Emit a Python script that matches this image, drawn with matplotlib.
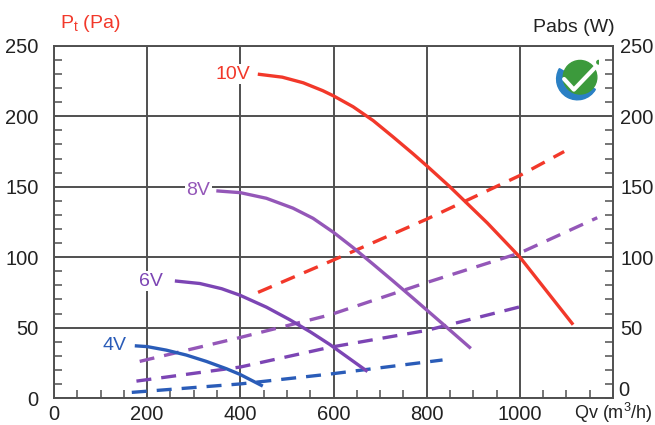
import numpy as np
import matplotlib.pyplot as plt
from matplotlib.patches import Circle, Wedge
from matplotlib.ticker import MultipleLocator, FixedLocator

plt.rcParams['font.family'] = ['Liberation Sans', 'DejaVu Sans']

# pressure curves Pt (Pa) vs Qv (m3/h)
qv_10v = [441, 490, 535, 577, 600, 642, 685, 727, 770, 800, 850, 930, 1000, 1112]
pt_10v = [229.8, 227.8, 223.8, 218.2, 214.5, 206.8, 197.0, 185.6, 173.6, 164.9, 149.9, 124.3, 100, 53]
qv_8v = [352, 400, 456, 513, 556, 600, 642, 685, 727, 770, 838, 892]
pt_8v = [147, 145.8, 141.8, 134.8, 127.6, 117.6, 106.8, 95.0, 83.3, 71.1, 51.6, 36]
qv_6v = [263, 313, 360, 399, 456, 506, 550, 592, 670]
pt_6v = [83, 81.3, 77.6, 73, 64.5, 55.6, 47, 38, 19.5]
qv_4v = [177, 200, 241, 284, 327, 370, 399, 445]
pt_4v = [37, 36.5, 34, 30.5, 26, 20.8, 16.8, 9]

# absorbed power Pabs (W) vs Qv
qv_w10 = [438, 600, 800, 1000, 1095]
w_10 = [75, 98, 127, 158, 175]
qv_w8 = [184, 400, 592, 800, 1000, 1166]
w_8 = [26, 43, 59, 82, 103, 128]
qv_w6 = [177, 400, 592, 800, 1003]
w_6 = [12, 22, 36, 48, 65]
qv_w4 = [167, 400, 592, 834]
w_4 = [4, 10, 17, 27]

labels = ['10V', '8V', '6V', '4V']
label_pos = [(384, 230), (310, 147), (208, 83), (130, 37)]
right_ticks = [50, 100, 150, 200, 250]

red = '#f2382a'
purple = '#9457b8'
purple2 = '#7c45b4'
blue = '#2a5cb8'
grid_c = '#505050'
txt_c = '#222222'

fig = plt.figure(figsize=(6.55, 4.25), dpi=100)
ax = fig.add_axes([0.0824, 0.0635, 0.8536, 0.8285])

ax.set_xlim(0, 1200)
ax.set_ylim(0, 250)
ax.xaxis.set_major_locator(MultipleLocator(200))
ax.xaxis.set_minor_locator(MultipleLocator(50))
ax.yaxis.set_major_locator(MultipleLocator(50))
ax.yaxis.set_minor_locator(MultipleLocator(10))
ax.grid(True, which='major', color=grid_c, lw=1.4)
ax.set_axisbelow(True)
for s in ax.spines.values():
    s.set_color(grid_c)
    s.set_linewidth(1.4)

ax.tick_params(which='major', length=0, labelsize=14.5, colors=txt_c)
ax.tick_params(axis='y', which='major', pad=11)
ax.tick_params(axis='x', which='major', pad=5)
ax.tick_params(which='minor', direction='in', length=6, color=grid_c, width=1.1)
ax.set_xticks([0, 200, 400, 600, 800, 1000])

# right hand scale for Pabs
ax2 = ax.twinx()
ax2.set_ylim(0, 250)
ax2.yaxis.set_major_locator(FixedLocator(right_ticks))
ax2.yaxis.set_minor_locator(MultipleLocator(10))
ax2.tick_params(which='major', length=0, labelsize=14.5, colors=txt_c, pad=5)
ax2.tick_params(which='minor', direction='in', length=6, color=grid_c, width=1.1)
for s in ax2.spines.values():
    s.set_visible(False)
# the zero of the right scale sits a little higher in the original
ax2.text(1.009, 0.02, '0', transform=ax2.transAxes, fontsize=14.5, color=txt_c,
         ha='left', va='center')

dash = (0, (4.5, 3))
ax.plot(qv_w10, w_10, color=red, lw=2.4, ls=dash)
ax.plot(qv_w8, w_8, color=purple, lw=2.4, ls=dash)
ax.plot(qv_w6, w_6, color=purple2, lw=2.4, ls=dash)
ax.plot(qv_w4, w_4, color=blue, lw=2.4, ls=dash)

for q, p, c in [(qv_10v, pt_10v, red), (qv_8v, pt_8v, purple),
                (qv_6v, pt_6v, purple2), (qv_4v, pt_4v, blue)]:
    ax.plot(q, p, color=c, lw=2.4, solid_joinstyle='round')

for lab, (x, y), c in zip(labels, label_pos, [red, purple, purple2, blue]):
    ax.text(x, y, lab, color=c, fontsize=14, ha='center', va='center',
            bbox=dict(facecolor='white', edgecolor='none', pad=1))

fig.text(0.092, 0.945, r'P$_\mathregular{t}$ (Pa)', color=red, fontsize=14, ha='left', va='center')
fig.text(0.938, 0.935, 'Pabs (W)', color=txt_c, fontsize=14, ha='right', va='center')
fig.text(0.997, 0.028, r'Qv (m$^\mathregular{3}$/h)', color=txt_c, fontsize=13, ha='right', va='center')

# small logo: green disc with blue swoosh and white tick
lax = fig.add_axes([0.847, 0.76, 0.069, 0.104])
lax.set_xlim(0, 1)
lax.set_ylim(0, 1)
lax.set_aspect('equal')
lax.axis('off')
lax.add_patch(Wedge((0.5, 0.52), 0.47, 150, 330, width=0.22, color='#2a80c4'))
lax.add_patch(Circle((0.56, 0.56), 0.38, color='#3c9a3c'))
lax.plot([0.2, 0.42, 0.9], [0.52, 0.28, 0.78], color='white', lw=3, solid_capstyle='round')
lax.add_patch(Circle((0.98, 0.9), 0.04, color='#3c9a3c'))

fig.savefig('out.png', dpi=100)
